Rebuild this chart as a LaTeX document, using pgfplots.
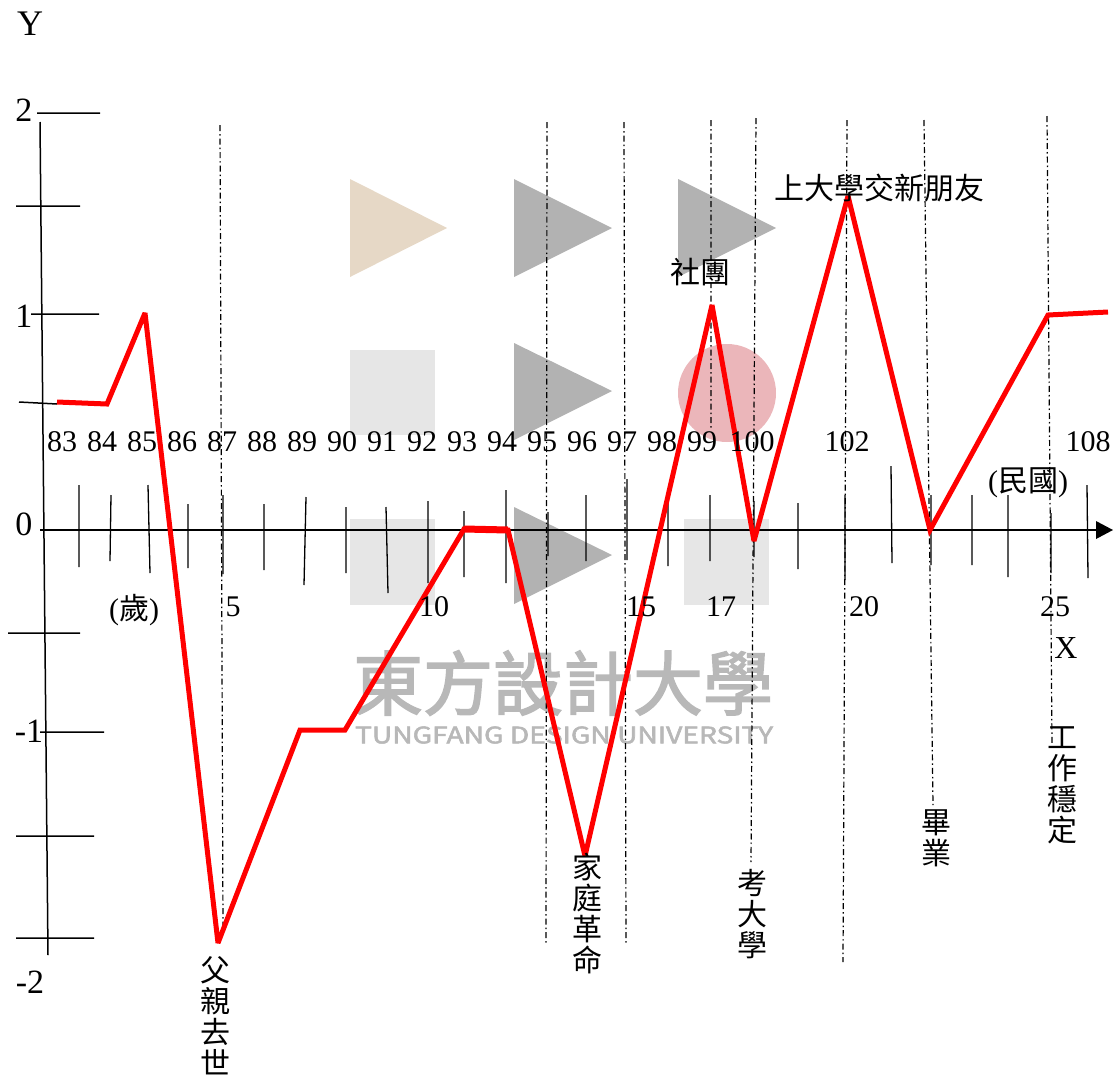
\documentclass[border=0pt]{standalone}
\usepackage{pgfplots}
\pgfplotsset{compat=1.18}
\usepackage{fontspec}
\setmainfont{Liberation Serif}
\newfontfamily\cjk{Noto Sans CJK TC}
\newfontfamily\cjkm[FakeBold=2.2]{Noto Sans CJK TC}
\definecolor{beige}{RGB}{230,216,198}
\definecolor{tri}{RGB}{178,178,178}
\definecolor{sq}{RGB}{230,230,230}
\definecolor{pinkc}{RGB}{235,182,186}
\definecolor{wm}{RGB}{184,184,184}
\newcommand{\fs}[1]{\fontsize{#1}{#1}\selectfont}
\begin{document}
\begin{tikzpicture}
\begin{axis}[hide axis, x=1pt, y=1pt, y dir=reverse, xmin=0, xmax=1118, ymin=0, ymax=1082,
  clip=false, unbounded coords=jump, every node/.style={inner sep=0pt}]
% page frame
\addplot[draw=none] coordinates {(0,0) (1118,1082)};
% decorative shapes
\addplot[fill=beige, draw=none] coordinates {(350,179) (447,228) (350,277)} -- cycle;
\addplot[fill=tri, draw=none] coordinates {(514,179) (612,228) (514,277)} -- cycle;
\addplot[fill=tri, draw=none] coordinates {(678,179) (776,228) (678,277)} -- cycle;
\addplot[fill=sq, draw=none] coordinates {(350,350) (435,350) (435,435) (350,435)} -- cycle;
\addplot[fill=tri, draw=none] coordinates {(514,343) (612,391) (514,440)} -- cycle;
\addplot[fill=pinkc, draw=none] coordinates {(727,393)} circle[radius=49pt];
\addplot[fill=sq, draw=none] coordinates {(350,519) (435,519) (435,605) (350,605)} -- cycle;
\addplot[fill=tri, draw=none] coordinates {(514,507) (612,555) (514,604)} -- cycle;
\addplot[fill=sq, draw=none] coordinates {(684,519) (769,519) (769,605) (684,605)} -- cycle;
% watermark
\node[font=\cjkm\fs{70}, text=wm] at (axis cs:563,683) {東方設計大學};
\node[font=\cjkm, text=wm] at (axis cs:564,735) {\resizebox{418pt}{17pt}{TUNGFANG DESIGN UNIVERSITY}};
% y axis and its ticks
\addplot[black, line width=1.5pt] coordinates {(40,122) (48,955)};
\addplot[black, line width=1.5pt] coordinates {
 (37,113) (100,113) (nan,nan)
 (16,206) (80,206) (nan,nan)
 (31,314) (99,314) (nan,nan)
 (19,402) (57,404) (nan,nan)
 (8,633) (80,633) (nan,nan)
 (40,732) (104,732) (nan,nan)
 (16,836) (94,836) (nan,nan)
 (16,938) (94,938)};
% x axis
\addplot[black, line width=2.7pt] coordinates {(40,530) (1098,530)};
\addplot[fill=black, draw=none] coordinates {(1096,521) (1113,530) (1096,539)} -- cycle;
% x ticks
\addplot[black, line width=1.3pt] coordinates {
 (79,485) (79,567) (nan,nan)
 (111,495) (110,561) (nan,nan)
 (148,485) (150,573) (nan,nan)
 (188,504) (188,568) (nan,nan)
 (223,495) (223,574) (nan,nan)
 (264,504) (264,570) (nan,nan)
 (306,497) (304,585) (nan,nan)
 (346,507) (346,573) (nan,nan)
 (386,507) (388,593) (nan,nan)
 (428,501) (428,583) (nan,nan)
 (464,511) (464,577) (nan,nan)
 (506,490) (506,583) (nan,nan)
 (548,512) (548,556) (nan,nan)
 (586,495) (586,561) (nan,nan)
 (627,479) (627,560) (nan,nan)
 (668,502) (668,566) (nan,nan)
 (710,495) (710,561) (nan,nan)
 (754,501) (754,557) (nan,nan)
 (798,503) (798,569) (nan,nan)
 (845,495) (845,580) (nan,nan)
 (891,466) (892,563) (nan,nan)
 (931,495) (931,565) (nan,nan)
 (972,495) (972,565) (nan,nan)
 (1008,495) (1008,577) (nan,nan)
 (1051,513) (1051,573) (nan,nan)
 (1087,485) (1088,578)};
% dash-dot guide lines
\addplot[black, line width=1.2pt, dash pattern=on 6pt off 3pt on 1.5pt off 3pt] coordinates {
 (220,125) (223,928) (nan,nan)
 (547,122) (546,945) (nan,nan)
 (624,122) (626,945) (nan,nan)
 (711,120) (711,430) (nan,nan)
 (756,118) (751,862) (nan,nan)
 (847,120) (843,962) (nan,nan)
 (924,120) (933,805) (nan,nan)
 (1047,116) (1052,745)};
% life curve
\addplot[red, line width=5pt, line join=miter, miter limit=3] coordinates {
 (57,402) (107,404) (145,313) (218,943) (300,730) (345,730) (464,529) (508,530)
 (585,856) (712,305) (754,541) (848,196) (930,530) (1048,315) (1108,312)};
\addplot[red, line width=7pt] coordinates {(464,529) (508,530)};
% y labels
\node[font=\fs{36}] at (axis cs:30,24) {Y};
\node[font=\fs{34}] at (axis cs:24,110) {2};
\node[font=\fs{34}] at (axis cs:24,316) {1};
\node[font=\fs{34}] at (axis cs:24,524) {0};
\node[font=\fs{34}] at (axis cs:29,731) {-1};
\node[font=\fs{34}] at (axis cs:30,982) {-2};
% year labels
\node[font=\fs{30}] at (axis cs:62,442) {83};
\node[font=\fs{30}] at (axis cs:102,442) {84};
\node[font=\fs{30}] at (axis cs:142,442) {85};
\node[font=\fs{30}] at (axis cs:182,442) {86};
\node[font=\fs{30}] at (axis cs:222,442) {87};
\node[font=\fs{30}] at (axis cs:262,442) {88};
\node[font=\fs{30}] at (axis cs:302,442) {89};
\node[font=\fs{30}] at (axis cs:342,442) {90};
\node[font=\fs{30}] at (axis cs:382,442) {91};
\node[font=\fs{30}] at (axis cs:422,442) {92};
\node[font=\fs{30}] at (axis cs:462,442) {93};
\node[font=\fs{30}] at (axis cs:502,442) {94};
\node[font=\fs{30}] at (axis cs:542,442) {95};
\node[font=\fs{30}] at (axis cs:582,442) {96};
\node[font=\fs{30}] at (axis cs:622,442) {97};
\node[font=\fs{30}] at (axis cs:662,442) {98};
\node[font=\fs{30}] at (axis cs:702,442) {99};
\node[font=\fs{30}] at (axis cs:752,442) {100};
\node[font=\fs{30}] at (axis cs:847,442) {102};
\node[font=\fs{30}] at (axis cs:1088,442) {108};
\node[font=\fs{30}] at (axis cs:1028,483) {({\cjk 民國})};
% age labels
\node[font=\fs{30}] at (axis cs:134,610) {({\cjk 歲})};
\node[font=\fs{30}] at (axis cs:233,607) {5};
\node[font=\fs{30}] at (axis cs:434,607) {10};
\node[font=\fs{30}] at (axis cs:641,607) {15};
\node[font=\fs{30}] at (axis cs:721,607) {17};
\node[font=\fs{30}] at (axis cs:864,607) {20};
\node[font=\fs{30}] at (axis cs:1055,607) {25};
\node[font=\fs{32}] at (axis cs:1066,648) {X};
% event labels
\node[font=\cjk\fs{30}] at (axis cs:700,272) {社團};
\node[font=\cjk\fs{30}] at (axis cs:879,188) {上大學交新朋友};
\node[font=\cjk\fontsize{30}{31}\selectfont, align=center, anchor=north] at (axis cs:215,953) {父\\親\\去\\世};
\node[font=\cjk\fontsize{30}{31}\selectfont, align=center, anchor=north] at (axis cs:587,850) {家\\庭\\革\\命};
\node[font=\cjk\fontsize{30}{31}\selectfont, align=center, anchor=north] at (axis cs:752,866) {考\\大\\學};
\node[font=\cjk\fontsize{30}{31}\selectfont, align=center, anchor=north] at (axis cs:936,806) {畢\\業};
\node[font=\cjk\fontsize{30}{31}\selectfont, align=center, anchor=north] at (axis cs:1062,723) {工\\作\\穩\\定};
\end{axis}
\end{tikzpicture}
\end{document}
